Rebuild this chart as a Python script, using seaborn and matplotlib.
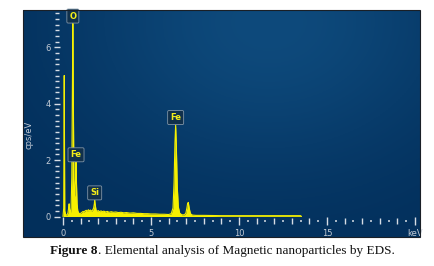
import numpy as np
import pandas as pd
import matplotlib
matplotlib.use("Agg")
import matplotlib.pyplot as plt
import seaborn as sns
from matplotlib.ticker import FixedLocator
from matplotlib.patches import Rectangle

# ---------------- data ----------------
energy_kev = [0.00, 0.04, 0.07, 0.10, 0.16, 0.22, 0.28, 0.32, 0.35, 0.38, 0.42, 0.46,
              0.50, 0.53, 0.56, 0.59, 0.62, 0.65, 0.68, 0.71, 0.74, 0.77, 0.80, 0.84,
              0.90, 0.96, 1.02, 1.08, 1.14, 1.20, 1.26, 1.32, 1.38, 1.44, 1.50, 1.56,
              1.62, 1.68, 1.74, 1.78, 1.80, 1.83, 1.88, 1.94, 2.00, 2.08, 2.16, 2.24,
              2.32, 2.42, 2.52, 2.62, 2.74, 2.86, 3.00, 3.15, 3.30, 3.45, 3.60, 3.80,
              4.00, 4.20, 4.40, 4.60, 4.80, 5.00, 5.25, 5.50, 5.75, 6.00, 6.15, 6.25,
              6.31, 6.36, 6.40, 6.44, 6.49, 6.55, 6.63, 6.75, 6.90, 6.98, 7.04, 7.08,
              7.12, 7.17, 7.24, 7.35, 7.55, 8.00, 8.50, 9.00, 9.50, 10.00, 10.50, 11.00,
              11.50, 12.00, 12.50, 13.00, 13.50, 13.55]
cps_per_ev = [0.00, 0.30, 5.00, 0.20, 0.05, 0.05, 0.12, 0.30, 0.45, 0.20, 0.10, 0.30,
              1.40, 4.20, 6.85, 4.00, 1.30, 0.70, 0.80, 1.30, 1.93, 1.10, 0.45, 0.20,
              0.12, 0.10, 0.12, 0.15, 0.18, 0.16, 0.20, 0.22, 0.18, 0.24, 0.20, 0.23,
              0.19, 0.22, 0.30, 0.45, 0.58, 0.42, 0.22, 0.18, 0.21, 0.17, 0.20, 0.17,
              0.19, 0.16, 0.18, 0.15, 0.17, 0.15, 0.16, 0.14, 0.15, 0.13, 0.14, 0.12,
              0.13, 0.11, 0.11, 0.10, 0.10, 0.09, 0.09, 0.08, 0.08, 0.07, 0.10, 0.30,
              1.20, 2.60, 3.25, 2.50, 1.10, 0.35, 0.12, 0.06, 0.06, 0.12, 0.30, 0.46,
              0.50, 0.30, 0.10, 0.05, 0.04, 0.04, 0.035, 0.03, 0.03, 0.03, 0.03, 0.03,
              0.03, 0.03, 0.03, 0.03, 0.03, 0.00]

peak_names = ["O", "Fe", "Si", "Fe"]
peak_energies = [0.56, 0.74, 1.80, 6.40]

x_ticks = [0, 5, 10, 15, 20]
x_tick_labels = ["0", "5", "10", "15", "keV"]
y_ticks = [0, 2, 4, 6]
y_tick_labels = ["0", "2", "4", "6"]
y_label = "cps/eV"
caption_bold = "Figure 8"
caption_rest = ". Elemental analysis of Magnetic nanoparticles by EDS."

# ---------------- styling ----------------
sns.set_style("white")
plt.rcParams["font.family"] = ["DejaVu Sans"]
plt.rcParams["xtick.bottom"] = True
plt.rcParams["ytick.left"] = True

W, H = 434, 266
fig = plt.figure(figsize=(W / 100, H / 100), dpi=100)
fig.patch.set_facecolor("white")

pl, pr, pt, pb = 23, 420, 10, 237
rect = [pl / W, 1 - pb / H, (pr - pl) / W, (pb - pt) / H]

# background gradient panel
bg = fig.add_axes(rect, zorder=0)
bg.axis("off")
gx, gy = np.meshgrid(np.linspace(0, 1, 200), np.linspace(0, 1, 120))
f = np.exp(-(((gx - 0.62) ** 2) / 0.25 + ((gy - 0.95) ** 2) / 0.45))
dark = np.array([0x02, 0x2e, 0x5a]) / 255
light = np.array([0x0e, 0x4a, 0x7c]) / 255
img = dark[None, None, :] + (light - dark)[None, None, :] * f[..., None]
bg.imshow(img, extent=[0, 1, 0, 1], origin="lower", aspect="auto")
bg.set_xlim(0, 1)
bg.set_ylim(0, 1)

ax = fig.add_axes(rect, zorder=1)
ax.set_facecolor("none")

yellow = "#f6f000"
df = pd.DataFrame({"keV": energy_kev, "cps": cps_per_ev})
ax.fill_between(df["keV"], 0, df["cps"], color=yellow, lw=0, zorder=2)
sns.lineplot(data=df, x="keV", y="cps", ax=ax, color=yellow, lw=0.8, zorder=3)

pxk = 17.6   # px per keV
pyc = 28.2   # px per cps/eV
x0p, y0p = 63, 216.5
ax.set_xlim(-(x0p - pl) / pxk, (pr - x0p) / pxk)
ax.set_ylim(-(pb - y0p) / pyc, (y0p - pt) / pyc)

for s in ax.spines.values():
    s.set_color("none")
ax.spines["bottom"].set_position(("data", -(221 - y0p) / pyc))
ax.spines["left"].set_position(("data", -(x0p - 57) / pxk))

tick_col = "#d6dce4"
lab_col = "#c4ccd6"
ax.set_xticks(x_ticks, labels=x_tick_labels)
ax.xaxis.set_minor_locator(FixedLocator(np.arange(0.5, 20.0, 1.0)))
ax.tick_params(axis="x", which="major", bottom=True, direction="inout", length=6, width=1.0,
               color=tick_col, labelcolor=lab_col, labelsize=6, pad=2.5)
ax.tick_params(axis="x", which="minor", bottom=True, direction="inout", length=2.0, width=1.1,
               color=tick_col)
ax.set_yticks(y_ticks, labels=y_tick_labels)
ax.yaxis.set_minor_locator(FixedLocator([v / 5 for v in range(1, 37) if v % 10 != 0]))
ax.tick_params(axis="y", which="major", left=True, direction="inout", length=4.5, width=1.0,
               color=tick_col, labelcolor=lab_col, labelsize=6, pad=2.0)
ax.tick_params(axis="y", which="minor", left=True, direction="inout", length=2.4, width=1.0,
               color=tick_col)

# integer-keV ticks of medium length
ylo, yhi = ax.get_ylim()
loc = (-(221 - y0p) / pyc - ylo) / (yhi - ylo)
sec = ax.secondary_xaxis(loc)
sec.set_xticks([v for v in range(0, 21) if v % 5 != 0])
sec.tick_params(bottom=True, direction="inout", length=3.8, width=1.0, color=tick_col,
                labelbottom=False)
for s in sec.spines.values():
    s.set_color("none")

ax.set_xlabel("")
ax.set_ylabel(y_label, color=lab_col, fontsize=6)
ax.yaxis.set_label_coords((33 - pl) / (pr - pl), (pb - 135) / (pb - pt))

# peak labels
for name, e in zip(peak_names, peak_energies):
    near = df[(df["keV"] - e).abs() < 0.03]
    h = near["cps"].max()
    ax.annotate(name, xy=(e, h), xytext=(0, 2.0), textcoords="offset points",
                ha="center", va="bottom", fontsize=6, color="#f4ee1a",
                fontweight="bold", zorder=5,
                bbox=dict(boxstyle="round,pad=0.3,rounding_size=0.15",
                          fc="#10304c", ec="#8094a6", lw=0.6))

# panel border
ax.add_patch(Rectangle((0, 0), 1, 1, transform=ax.transAxes, fill=False,
                       ec="#1a1f26", lw=0.8, clip_on=False, zorder=6))

# caption
cy = 1 - 251 / H
t1 = fig.text(50 / W, cy, caption_bold, fontsize=9.5, fontweight="bold",
              family="Liberation Serif", va="center", ha="left", color="#111111")
fig.canvas.draw()
bb = t1.get_window_extent()
fig.text(bb.x1 / W, cy, caption_rest, fontsize=9.5, family="Liberation Serif",
         va="center", ha="left", color="#111111")

fig.savefig("out.png", dpi=100)
